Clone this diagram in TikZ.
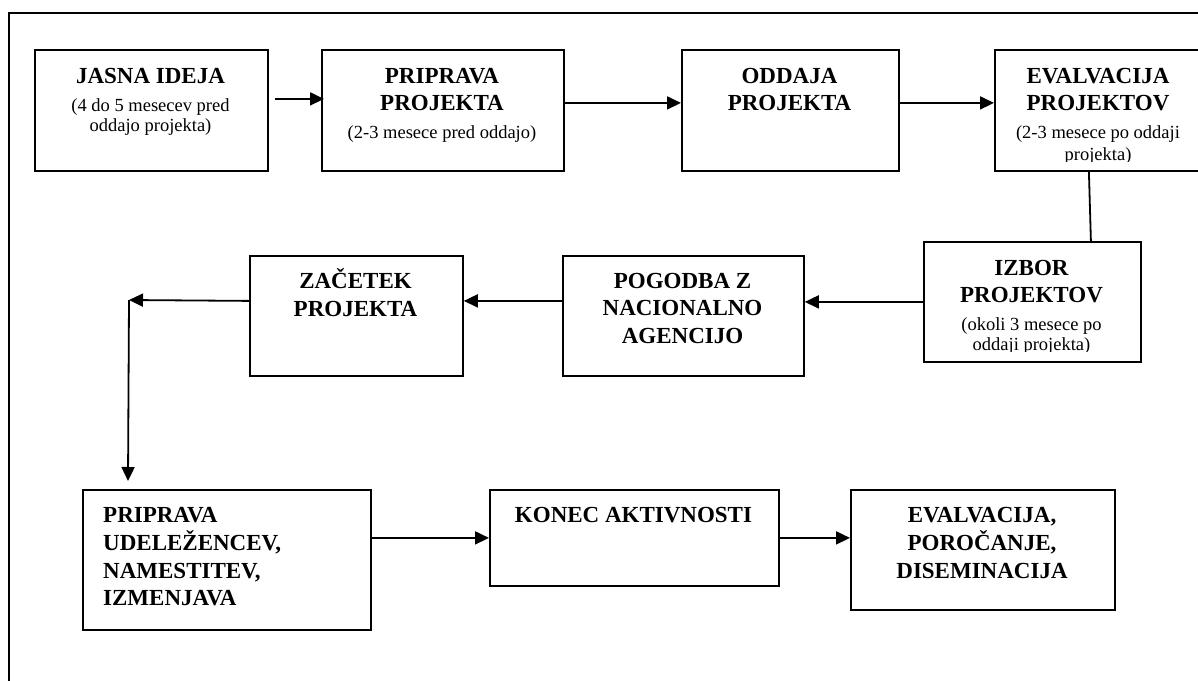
\documentclass[tikz,border=0pt]{standalone}
\usepackage{fontspec}
\setmainfont{Liberation Serif}
\usetikzlibrary{arrows.meta}
\begin{document}
\begin{tikzpicture}[x=1pt,y=-1pt,
  box/.style={draw, line width=1.8pt, inner sep=0pt, anchor=north west},
  ttl/.style={font=\fontsize{23}{27}\selectfont\bfseries, inner sep=0pt, anchor=base},
  ttll/.style={ttl, anchor=base west},
  sub/.style={font=\fontsize{18.5}{21}\selectfont, inner sep=0pt, anchor=base},
  arr/.style={line width=1.8pt, -{Triangle[length=14pt,width=13pt]}},
  ln/.style={line width=1.8pt}]
\useasboundingbox (0,0) rectangle (1198,680);
% frame
\draw[ln] (9,690) -- (9,13) -- (1210,13);
% boxes
\node[box, minimum width=233pt, minimum height=121pt] (b1) at (34,49) {};
\node[box, minimum width=242pt, minimum height=121pt] (b2) at (321,49) {};
\node[box, minimum width=217pt, minimum height=121pt] (b3) at (681,49) {};
\node[box, minimum width=210pt, minimum height=121pt] (b4) at (994,49) {};
\node[box, minimum width=217pt, minimum height=120pt] (izbor) at (923,241) {};
\node[box, minimum width=241pt, minimum height=120pt] (pog) at (562,255) {};
\node[box, minimum width=213pt, minimum height=120pt] (zac) at (249,255) {};
\node[box, minimum width=288pt, minimum height=140pt] (udel) at (82,489) {};
\node[box, minimum width=289pt, minimum height=96pt] (konec) at (489,489) {};
\node[box, minimum width=264pt, minimum height=120pt] (disem) at (850,489) {};
% texts
\node[ttl] (t1a) at (150.5,83) {JASNA IDEJA};
\node[sub] (t1b) at (150.5,111) {(4 do 5 mesecev pred};
\node[sub] (t1c) at (150.5,131) {oddajo projekta)};
\node[ttl] (t2a) at (442,83) {PRIPRAVA};
\node[ttl] (t2b) at (442,110) {PROJEKTA};
\node[sub] (t2c) at (442,138) {(2-3 mesece pred oddajo)};
\node[ttl] (t3a) at (789.5,83) {ODDAJA};
\node[ttl] (t3b) at (789.5,110) {PROJEKTA};
\node[ttl] (t4a) at (1098,83) {EVALVACIJA};
\node[ttl] (t4b) at (1098,110) {PROJEKTOV};
\node[sub] (t4c) at (1098,138) {(2-3 mesece po oddaji};
\begin{scope}
  \clip (994,140) rectangle (1198,161.5);
  \node[sub] (t4d) at (1098,160) {projekta)};
\end{scope}
\node[ttl] (t5a) at (1031.5,275) {IZBOR};
\node[ttl] (t5b) at (1031.5,302) {PROJEKTOV};
\node[sub] (t5c) at (1031.5,330) {(okoli 3 mesece po};
\begin{scope}
  \clip (923,332) rectangle (1140,351.5);
  \node[sub] (t5d) at (1031.5,350) {oddaji projekta)};
\end{scope}
\node[ttl] (t6a) at (682.5,288) {POGODBA Z};
\node[ttl] (t6b) at (682.5,315.5) {NACIONALNO};
\node[ttl] (t6c) at (682.5,343) {AGENCIJO};
\node[ttl] (t7a) at (355.5,288) {ZAČETEK};
\node[ttl] (t7b) at (355.5,316) {PROJEKTA};
\node[ttll] (t8a) at (103,522) {PRIPRAVA};
\node[ttll] (t8b) at (103,550) {UDELEŽENCEV,};
\node[ttll] (t8c) at (103,578) {NAMESTITEV,};
\node[ttll] (t8d) at (103,605) {IZMENJAVA};
\node[ttl] (t9a) at (633.5,522) {KONEC AKTIVNOSTI};
\node[ttl] (t10a) at (982,522) {EVALVACIJA,};
\node[ttl] (t10b) at (982,550) {POROČANJE,};
\node[ttl] (t10c) at (982,578) {DISEMINACIJA};
% connectors
\coordinate (c1) at (129,300);
\coordinate (c2) at (128,481);
\draw[arr, shorten <=6pt, shorten >=-3pt] ([yshift=11.5pt]b1.east) -- ([yshift=11.5pt]b2.west);
\draw[arr] ([yshift=7.5pt]b2.east) -- ([yshift=7.5pt]b3.west);
\draw[arr] ([yshift=7.5pt]b3.east) -- ([yshift=7.5pt]b4.west);
\draw[ln] ([xshift=-11pt]b4.south) -- ([xshift=58.5pt]izbor.north);
\draw[arr] (izbor.west) -- (izbor.west -| pog.east);
\draw[arr] ([yshift=15pt]pog.west) -- ([yshift=15pt]zac.east);
\draw[arr] ([yshift=15pt]zac.west) -- (c1);
\draw[arr] (c1) -- (c2);
\draw[arr] (udel.east |- konec.west) -- (konec.west);
\draw[arr] (konec.east) -- (konec.east -| disem.west);
\end{tikzpicture}
\end{document}
